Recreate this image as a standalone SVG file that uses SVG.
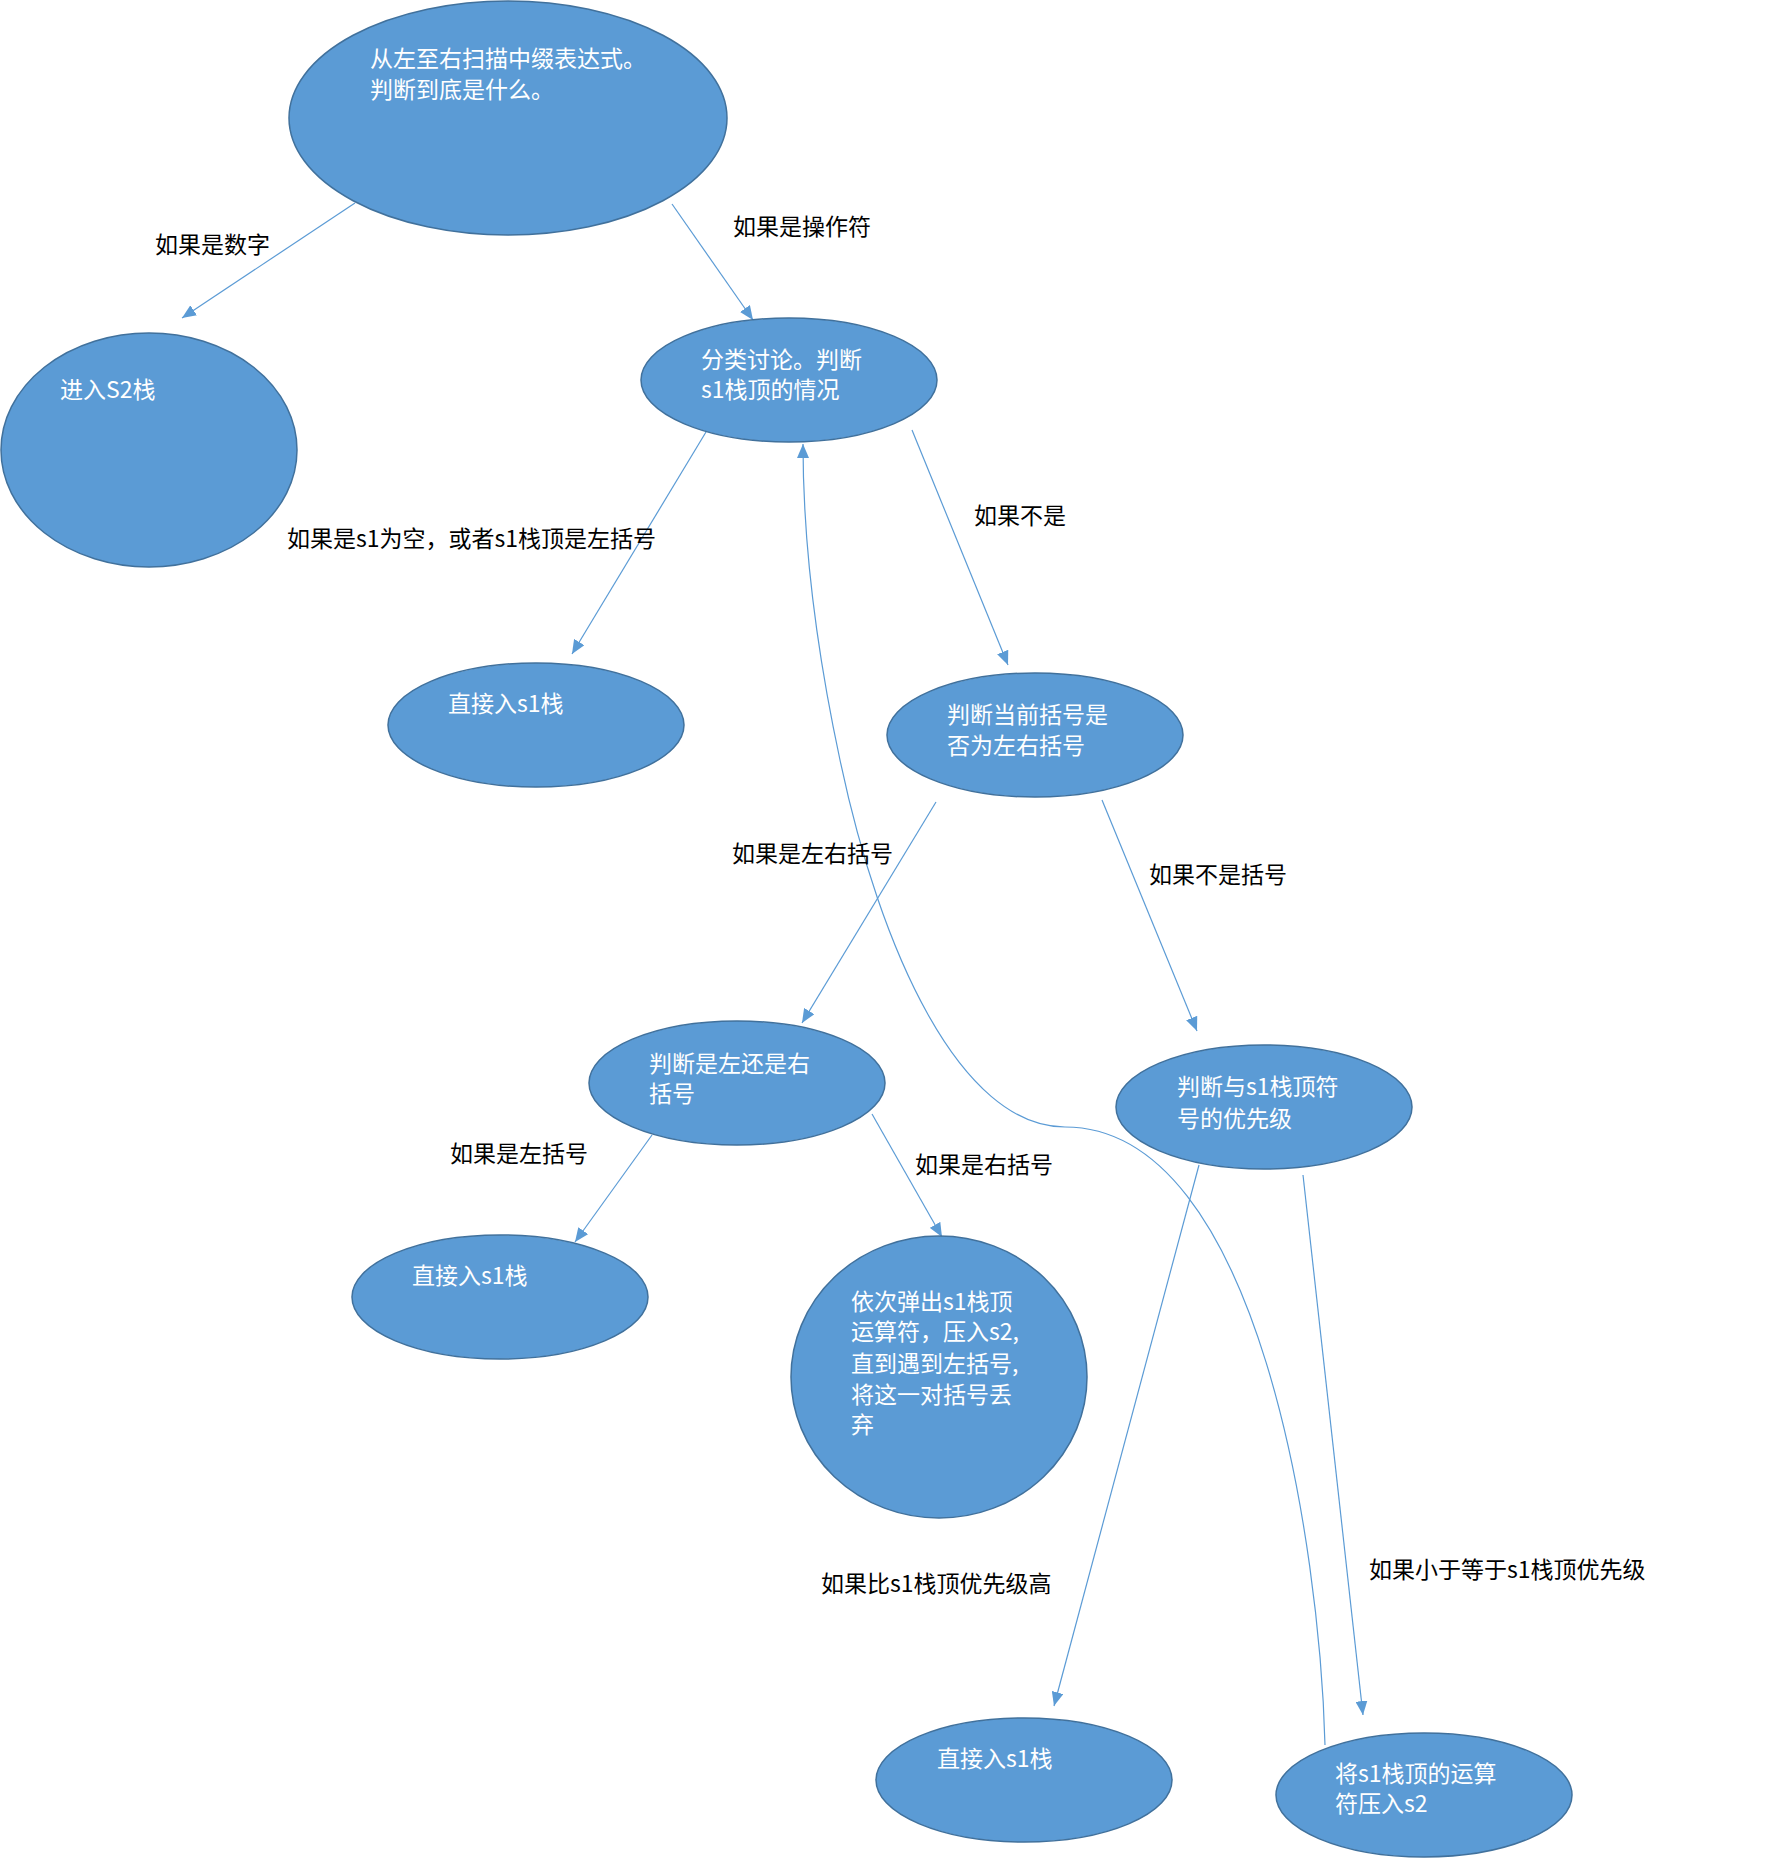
<svg xmlns="http://www.w3.org/2000/svg" width="1783" height="1858" viewBox="0 0 1783 1858">
<style>
.n{fill:#5B9BD5;stroke:#41719C;stroke-width:1.5}
.t{fill:#FFFFFF;font-family:"Noto Sans CJK SC","Microsoft YaHei",sans-serif;font-size:23px}
.l{fill:#000000;font-family:"Noto Sans CJK SC","Microsoft YaHei",sans-serif;font-size:23px}
.c{fill:none;stroke:#5B9BD5;stroke-width:1.2}
</style>
<defs>
<marker id="a" markerUnits="userSpaceOnUse" markerWidth="14" markerHeight="12" viewBox="0 0 14 12" refX="14" refY="6" orient="auto">
<path d="M0,0 L14,6 L0,12 Z" fill="#5B9BD5"/>
</marker>
</defs>
<rect width="1783" height="1858" fill="#FFFFFF"/>
<g id="connectors">
<line class="c" x1="355" y1="203" x2="182" y2="318" marker-end="url(#a)"/>
<line class="c" x1="672" y1="204" x2="753" y2="320" marker-end="url(#a)"/>
<line class="c" x1="706" y1="432" x2="572" y2="654" marker-end="url(#a)"/>
<line class="c" x1="912" y1="430" x2="1008" y2="665" marker-end="url(#a)"/>
<line class="c" x1="936" y1="802" x2="802" y2="1023" marker-end="url(#a)"/>
<line class="c" x1="1102" y1="800" x2="1197" y2="1031" marker-end="url(#a)"/>
<line class="c" x1="652" y1="1135" x2="575" y2="1242" marker-end="url(#a)"/>
<line class="c" x1="872" y1="1114" x2="942" y2="1237" marker-end="url(#a)"/>
<line class="c" x1="1199" y1="1165" x2="1054" y2="1706" marker-end="url(#a)"/>
<line class="c" x1="1303" y1="1175" x2="1363" y2="1715" marker-end="url(#a)"/>
<path class="c" d="M1325,1745 C1320,1550 1260,1127 1065,1127 C960,1127 880,950 840,760 C810,620 803,520 803,444" marker-end="url(#a)"/>
</g>
<g id="labels">
<text class="l" x="155" y="253">如果是数字</text>
<text class="l" x="733" y="235">如果是操作符</text>
<text class="l" x="287" y="547">如果是s1为空，或者s1栈顶是左括号</text>
<text class="l" x="974" y="524">如果不是</text>
<text class="l" x="732" y="862">如果是左右括号</text>
<text class="l" x="1149" y="883">如果不是括号</text>
<text class="l" x="450" y="1162">如果是左括号</text>
<text class="l" x="915" y="1173">如果是右括号</text>
<text class="l" x="821" y="1592">如果比s1栈顶优先级高</text>
<text class="l" x="1369" y="1578">如果小于等于s1栈顶优先级</text>
</g>
<g id="n1"><ellipse class="n" cx="508" cy="118" rx="219" ry="117"/>
<text class="t" x="370" y="67">从左至右扫描中缀表达式。</text>
<text class="t" x="370" y="98">判断到底是什么。</text></g>
<g id="n2"><ellipse class="n" cx="149" cy="450" rx="148" ry="117"/>
<text class="t" x="60" y="398">进入S2栈</text></g>
<g id="n3"><ellipse class="n" cx="789" cy="380" rx="148" ry="62"/>
<text class="t" x="701" y="368">分类讨论。判断</text>
<text class="t" x="701" y="398">s1栈顶的情况</text></g>
<g id="n4"><ellipse class="n" cx="536" cy="725" rx="148" ry="62"/>
<text class="t" x="448" y="712">直接入s1栈</text></g>
<g id="n5"><ellipse class="n" cx="1035" cy="735" rx="148" ry="62"/>
<text class="t" x="947" y="723">判断当前括号是</text>
<text class="t" x="947" y="754">否为左右括号</text></g>
<g id="n6"><ellipse class="n" cx="737" cy="1083" rx="148" ry="62"/>
<text class="t" x="649" y="1072">判断是左还是右</text>
<text class="t" x="649" y="1102">括号</text></g>
<g id="n7"><ellipse class="n" cx="1264" cy="1107" rx="148" ry="62"/>
<text class="t" x="1177" y="1095">判断与s1栈顶符</text>
<text class="t" x="1177" y="1127">号的优先级</text></g>
<g id="n8"><ellipse class="n" cx="500" cy="1297" rx="148" ry="62"/>
<text class="t" x="412" y="1284">直接入s1栈</text></g>
<g id="n9"><ellipse class="n" cx="939" cy="1377" rx="148" ry="141"/>
<text class="t" x="851" y="1310">依次弹出s1栈顶</text>
<text class="t" x="851" y="1340">运算符，压入s2,</text>
<text class="t" x="851" y="1372">直到遇到左括号,</text>
<text class="t" x="851" y="1403">将这一对括号丢</text>
<text class="t" x="851" y="1433">弃</text></g>
<g id="n10"><ellipse class="n" cx="1024" cy="1780" rx="148" ry="62"/>
<text class="t" x="937" y="1767">直接入s1栈</text></g>
<g id="n11"><ellipse class="n" cx="1424" cy="1795" rx="148" ry="62"/>
<text class="t" x="1335" y="1782">将s1栈顶的运算</text>
<text class="t" x="1335" y="1812">符压入s2</text></g>
</svg>
